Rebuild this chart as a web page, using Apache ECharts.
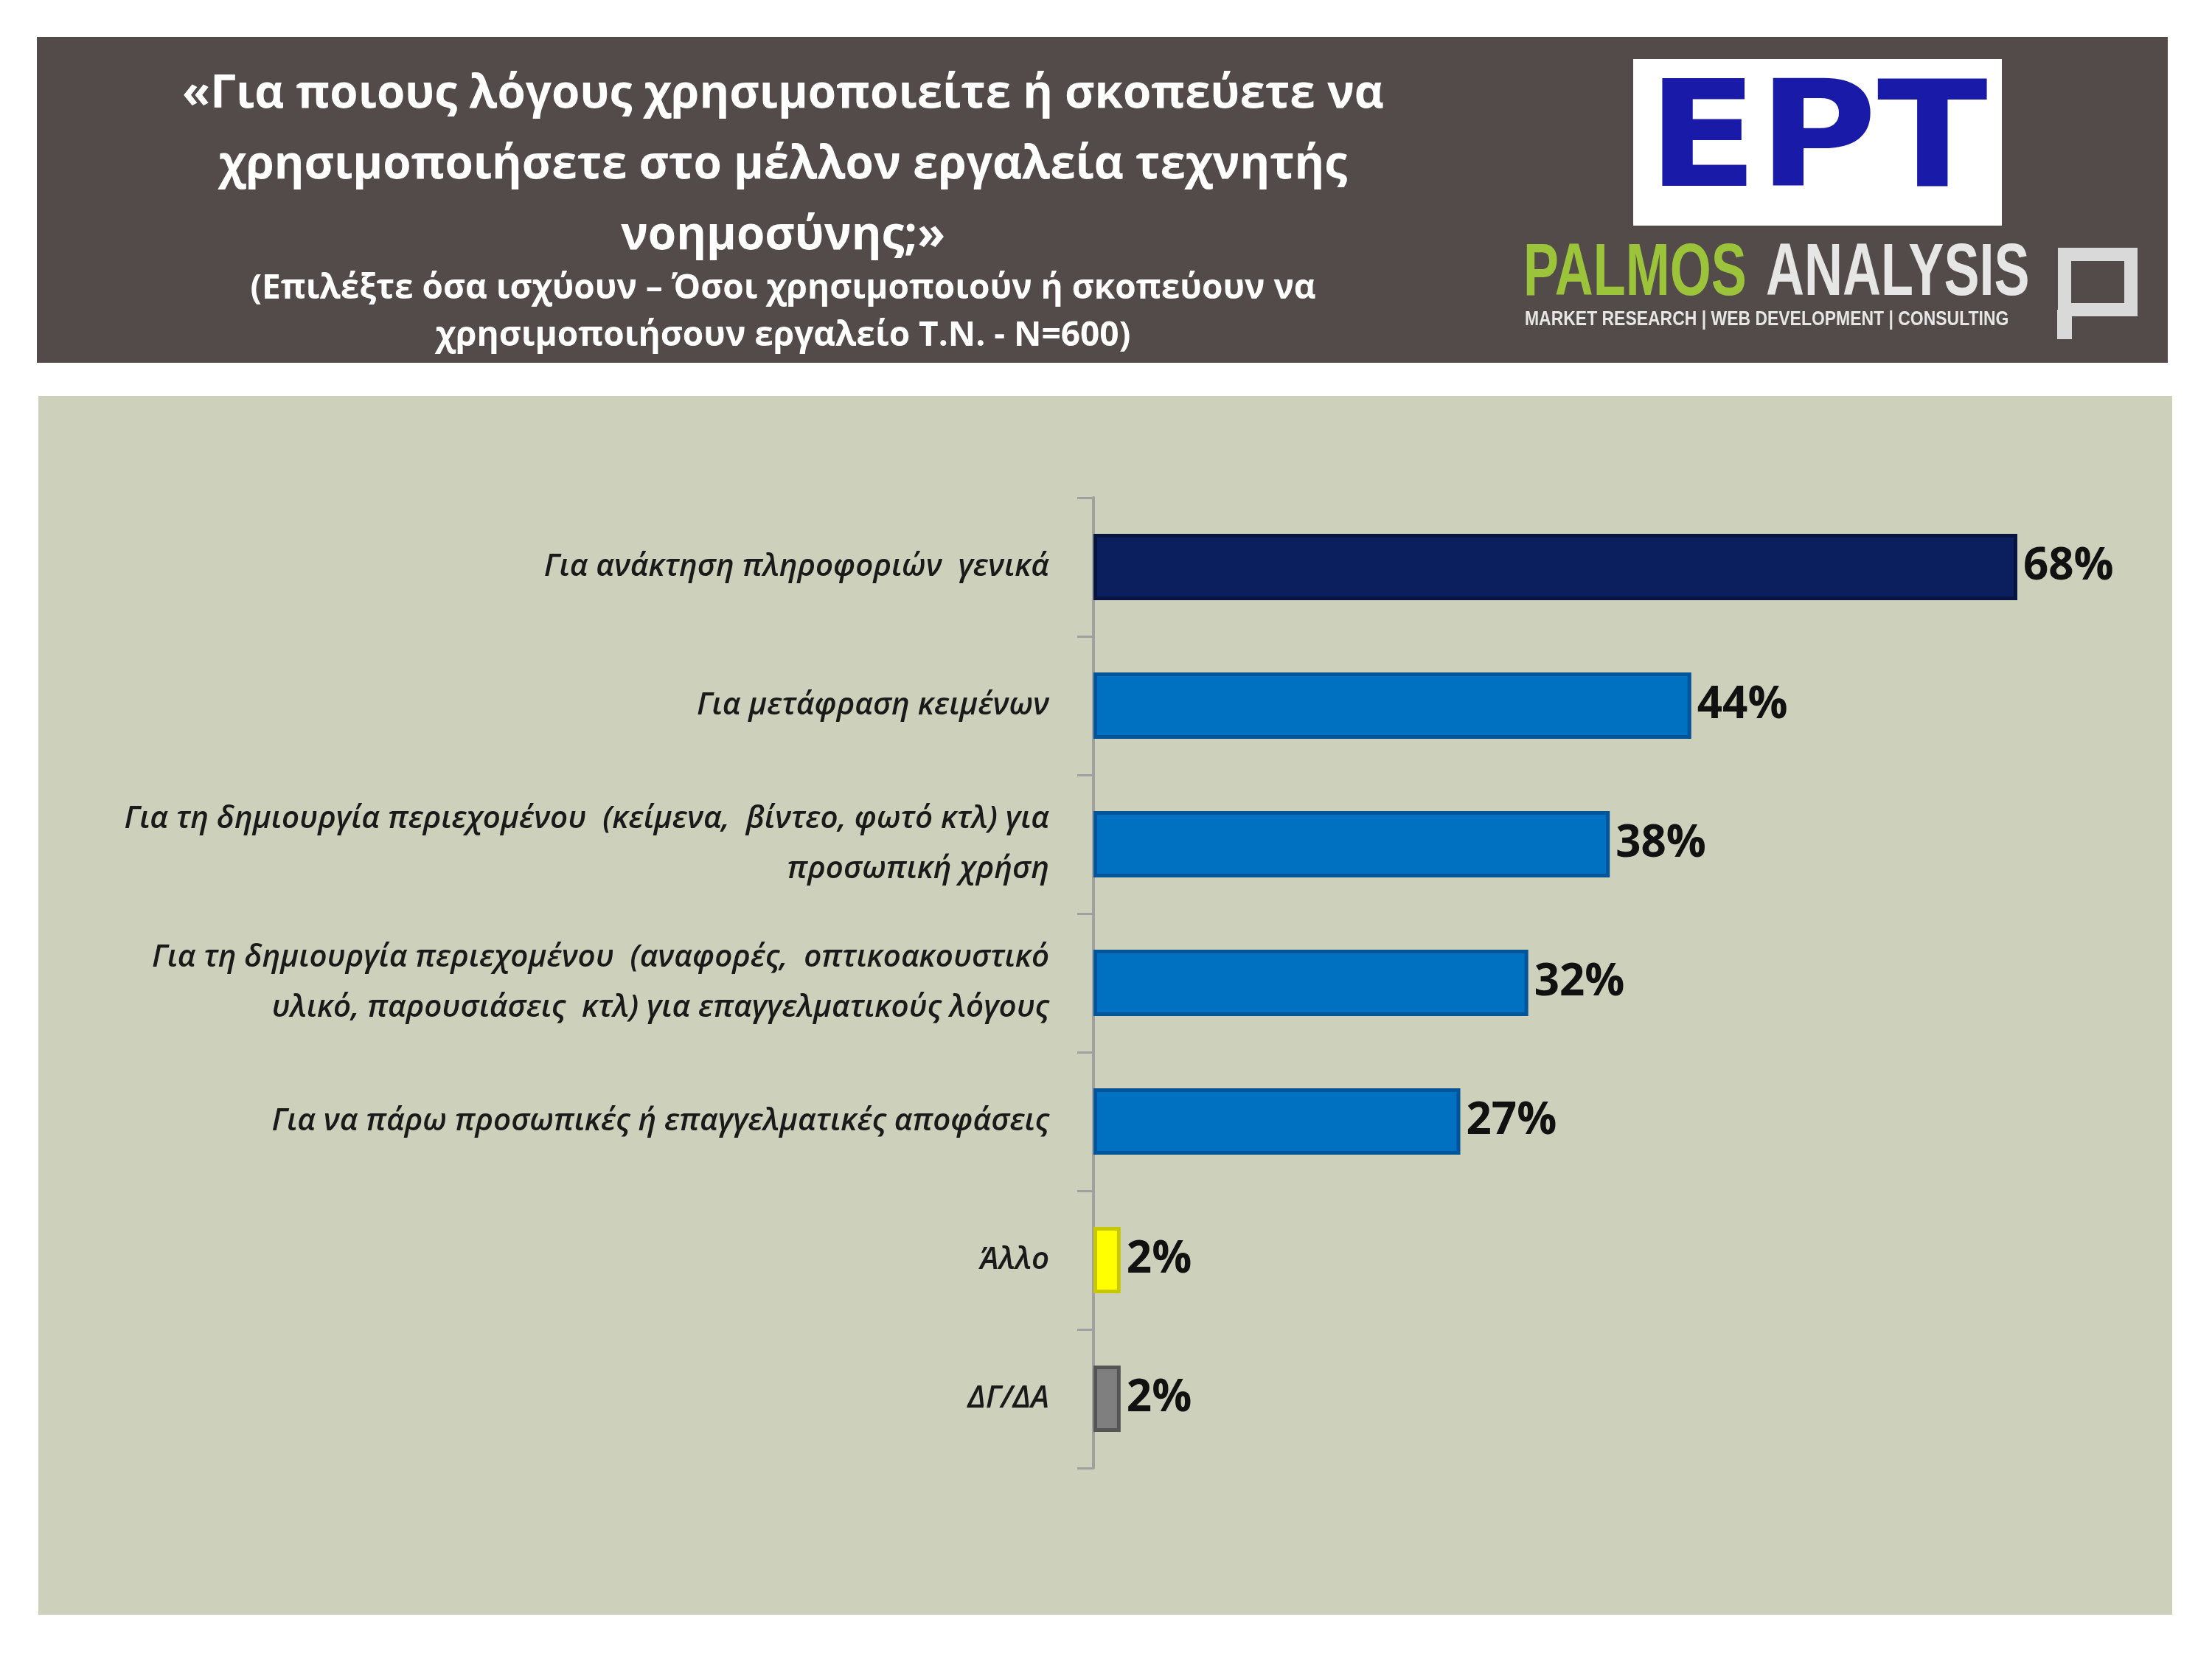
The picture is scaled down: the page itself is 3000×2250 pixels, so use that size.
<!DOCTYPE html>
<html><head><meta charset="utf-8">
<script src="https://cdn.jsdelivr.net/npm/echarts@6/dist/echarts.min.js"></script>
<style>html,body{margin:0;padding:0;background:#fff}#c{width:3000px;height:2250px}</style>
</head><body><div id="c"></div>
<script>
const categories = [
  "Για ανάκτηση πληροφοριών  γενικά",
  "Για μετάφραση κειμένων",
  "Για τη δημιουργία περιεχομένου  (κείμενα,  βίντεο, φωτό κτλ) για\nπροσωπική χρήση",
  "Για τη δημιουργία περιεχομένου  (αναφορές,  οπτικοακουστικό\nυλικό, παρουσιάσεις  κτλ) για επαγγελματικούς λόγους",
  "Για να πάρω προσωπικές ή επαγγελματικές αποφάσεις",
  "Άλλο",
  "ΔΓ/ΔΑ"
];
const values = [68, 44, 38, 32, 27, 2, 2];
const barColors = ["#0b1f5e", "#0070c0", "#0070c0", "#0070c0", "#0070c0", "#ffff00", "#7f7f7f"];
const edgeColors = ["#06143f", "#00549a", "#00549a", "#00549a", "#00549a", "#c8c800", "#555555"];

const chart = echarts.init(document.getElementById('c'));
const ff = "'Open Sans','Noto Sans',sans-serif";
chart.setOption({
  backgroundColor: '#ffffff',
  animation: false,
  graphic: [
    {type:'rect', shape:{x:50,y:50,width:2890,height:442}, style:{fill:'#534b49'}},
    {type:'rect', shape:{x:52,y:537,width:2894,height:1653}, style:{fill:'#cdd1bb'}},
    {type:'text', x:1062, y:80, style:{text:'«Για ποιους λόγους χρησιμοποιείτε ή σκοπεύετε να\nχρησιμοποιήσετε στο μέλλον εργαλεία τεχνητής\nνοημοσύνης;»', fill:'#fff', font:'bold 62px '+ff, align:'center', lineHeight:96}},
    {type:'text', x:1062, y:360, style:{text:'(Επιλέξτε όσα ισχύουν – Όσοι χρησιμοποιούν ή σκοπεύουν να\nχρησιμοποιήσουν εργαλείο Τ.Ν. - N=600)', fill:'#fff', font:'bold 46px '+ff, align:'center', lineHeight:64}},
    {type:'rect', shape:{x:2215,y:80,width:500,height:226}, style:{fill:'#ffffff'}},
    {type:'text', x:2465, y:100, scaleX:1.1, style:{text:'EPT', fill:'#1a1aa8', font:'900 200px "DejaVu Sans",sans-serif', align:'center'}},
    {type:'text', x:2066, y:322, scaleX:0.72, style:{text:'PALMOS', fill:'#9cc43a', font:'bold 100px "Liberation Sans",sans-serif'}},
    {type:'text', x:2395, y:322, scaleX:0.72, style:{text:'ANALYSIS', fill:'#e6e6e6', font:'bold 100px "Liberation Sans",sans-serif'}},
    {type:'text', x:2068, y:420, scaleX:0.85, style:{text:'MARKET RESEARCH | WEB DEVELOPMENT | CONSULTING', fill:'#e6e6e6', font:'bold 27px "Liberation Sans",sans-serif'}},
    {type:'rect', shape:{x:2800,y:345,width:90,height:75}, style:{fill:'none', stroke:'#d9d9d9', lineWidth:18}},
    {type:'rect', shape:{x:2790,y:420,width:20,height:40}, style:{fill:'#d9d9d9'}}
  ],
  grid: {left:1483, right:264, top:675, bottom:259},
  xAxis: {type:'value', min:0, max:68, show:false},
  yAxis: {
    type:'category', data:categories, inverse:true,
    axisLine:{show:true, lineStyle:{color:'#a0a0a0', width:4}},
    axisTick:{show:true, length:22, lineStyle:{color:'#a0a0a0', width:3}},
    axisLabel:{margin:60, fontFamily:ff, fontStyle:'italic', fontWeight:600, fontSize:42, color:'#1a1a1a', align:'right', lineHeight:68}
  },
  series: [{
    type:'bar', barWidth:'48%',
    data: values.map((v,i)=>({value:v, itemStyle:{color:barColors[i], borderColor:edgeColors[i], borderWidth:5}})),
    label:{show:true, position:'right', distance:8, formatter:'{c}%', fontFamily:ff, fontWeight:'bold', fontSize:60, color:'#111'}
  }]
});
</script></body></html>
